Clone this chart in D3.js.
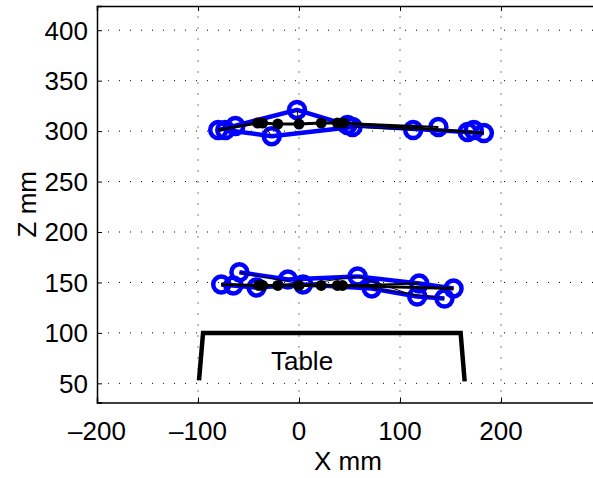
<!DOCTYPE html>
<html>
<head>
<meta charset="utf-8">
<script src="https://cdn.jsdelivr.net/npm/d3@7/dist/d3.min.js"></script>
<style>
  html, body { margin: 0; padding: 0; background: #fff; }
  svg { display: block; }
  text { font-family: "Liberation Sans", Arial, Helvetica, sans-serif; fill: #000; }
</style>
</head>
<body>
<svg id="chart" width="593" height="478"></svg>
<script>
// ---------- data ----------
const xTicks = [-200, -100, 0, 100, 200];
const yTicks = [50, 100, 150, 200, 250, 300, 350, 400];
const xTickLabels = ["\u2013200", "\u2013100", "0", "100", "200"];
const yTickLabels = ["50", "100", "150", "200", "250", "300", "350", "400"];

// upper hand (Z ~ 300 mm): marker positions [X, Z]
const upperMarkers = [
  [-80, 301], [-73, 301], [-63, 305], [-27, 295], [-2, 321], [48, 306],
  [53, 304], [113, 301], [138, 304], [167, 299], [173, 301], [183, 298]
];
// upper hand: virtual centre points [X, Z]
const upperDots = [[-41, 308], [-36, 308], [-21, 307], [0, 307], [22, 308], [38, 308], [44, 308]];

// lower hand (Z ~ 150 mm)
const lowerMarkers = [
  [-77, 148], [-65, 147], [-59, 160], [-42, 145], [-11, 153], [4, 148],
  [58, 156], [72, 144], [119, 149], [117, 136], [144, 134], [153, 144]
];
const lowerDots = [[-40, 147], [-36, 147], [-21, 147], [0, 147], [22, 147], [38, 147], [43, 147]];

// connections ("m" = marker index, "d" = centre point index)
const upperBlue  = [["m0","m4","m5"], ["m1","m3","m6"], ["m5","m11"]];
const upperBlack = [["m0","d0","d1","d2","d3","d4","d5","d6","m11"]];
const upperMid   = [["d6","m8"]];
const upperThin  = [["m3","d1"], ["m4","d3"], ["m6","m7"]];

const lowerBlue  = [["m0","m3","m5","m7","m9","m10"], ["m2","m4","m6","m8","m11"]];
const lowerBlack = [["m0","d0","d1","d2","d3","d4","d5","d6","m11"]];
const lowerMid   = [["d6","m8"]];
const lowerThin  = [["m2","m5"], ["m5","m6"], ["m7","m10"], ["m6","m9"]];

// table outline
const tableX = [-99, -95, 160, 164];
const tableZ = [53, 100, 100, 52];
const tableLabel = { text: "Table", x: 3, z: 63 };

// ---------- scales ----------
const FS = 26;
const svg = d3.select("#chart");
const x = d3.scaleLinear().domain([-200, 297]).range([97, 599]);
const y = d3.scaleLinear().domain([31, 424]).range([402.5, 6]);

// grid
const grid = svg.append("g").attr("stroke", "#000").attr("stroke-width", 1)
  .attr("stroke-dasharray", "1,10").attr("fill", "none");
grid.selectAll("line.gx").data(xTicks.filter(t => t > -200)).join("line")
  .attr("x1", d => x(d)).attr("x2", d => x(d)).attr("y1", y.range()[0]).attr("y2", y.range()[1]);
grid.selectAll("line.gy").data(yTicks).join("line")
  .attr("y1", d => y(d)).attr("y2", d => y(d)).attr("x1", x.range()[0]).attr("x2", x.range()[1]);

// axes box + ticks
const axes = svg.append("g");
const xAxisB = d3.axisBottom(x).tickValues(xTicks).tickSize(-5).tickFormat("");
const xAxisT = d3.axisTop(x).tickValues(xTicks).tickSize(-5).tickFormat("");
const yAxisL = d3.axisLeft(y).tickValues(yTicks).tickSize(-5).tickFormat("");
const yAxisR = d3.axisRight(y).tickValues(yTicks).tickSize(-5).tickFormat("");
axes.append("g").attr("transform", `translate(0,${y.range()[0]})`).call(xAxisB);
axes.append("g").attr("transform", `translate(0,${y.range()[1]})`).call(xAxisT);
axes.append("g").attr("transform", `translate(${x.range()[0]},0)`).call(yAxisL);
axes.append("g").attr("transform", `translate(${x.range()[1]},0)`).call(yAxisR);
axes.selectAll(".domain").attr("stroke", "#000").attr("stroke-width", 1.5);
axes.selectAll(".tick line").attr("stroke", "#000").attr("stroke-width", 1);

// tick labels
svg.append("g").selectAll("text").data(xTicks).join("text")
  .attr("x", d => x(d)).attr("y", 440).attr("text-anchor", "middle")
  .attr("font-size", FS).text((d, i) => xTickLabels[i]);
svg.append("g").selectAll("text").data(yTicks).join("text")
  .attr("x", 88).attr("y", d => y(d)).attr("dy", "0.36em").attr("text-anchor", "end")
  .attr("font-size", FS).text((d, i) => yTickLabels[i]);

// axis labels
svg.append("text").attr("x", (x.range()[0] + x.range()[1]) / 2).attr("y", 470)
  .attr("text-anchor", "middle").attr("font-size", FS).text("X mm");
svg.append("text").attr("transform", `translate(36,${(y.range()[0] + y.range()[1]) / 2}) rotate(-90)`)
  .attr("text-anchor", "middle").attr("font-size", FS).text("Z mm");

// plot area content
const plot = svg.append("g");

// table
const tablePts = tableX.map((v, i) => [v, tableZ[i]]);
plot.append("path").datum(tablePts)
  .attr("d", d3.line().x(d => x(d[0])).y(d => y(d[1])))
  .attr("fill", "none").attr("stroke", "#000").attr("stroke-width", 4.5)
  .attr("stroke-linejoin", "miter");
plot.append("text").attr("x", x(tableLabel.x)).attr("y", y(tableLabel.z))
  .attr("text-anchor", "middle").attr("font-size", FS).text(tableLabel.text);

function drawHand(markers, dots, blue, black, mid, thin) {
  const pt = k => (k[0] === "m" ? markers : dots)[+k.slice(1)];
  const line = d3.line().x(k => x(pt(k)[0])).y(k => y(pt(k)[1]));
  const g = plot.append("g");
  g.selectAll("path.blue").data(blue).join("path").attr("d", line)
    .attr("fill", "none").attr("stroke", "#0000ff").attr("stroke-width", 4.5)
    .attr("stroke-linejoin", "round");
  g.selectAll("circle.m").data(markers).join("circle")
    .attr("cx", d => x(d[0])).attr("cy", d => y(d[1])).attr("r", 8)
    .attr("fill", "none").attr("stroke", "#0000ff").attr("stroke-width", 4.5);
  g.selectAll("path.thin").data(thin).join("path").attr("d", line)
    .attr("fill", "none").attr("stroke", "#000").attr("stroke-width", 1);
  g.selectAll("path.mid").data(mid).join("path").attr("d", line)
    .attr("fill", "none").attr("stroke", "#000").attr("stroke-width", 2);
  g.selectAll("path.black").data(black).join("path").attr("d", line)
    .attr("fill", "none").attr("stroke", "#000").attr("stroke-width", 3);
  g.selectAll("circle.d").data(dots).join("circle")
    .attr("cx", d => x(d[0])).attr("cy", d => y(d[1])).attr("r", 5.5)
    .attr("fill", "#000");
}
drawHand(upperMarkers, upperDots, upperBlue, upperBlack, upperMid, upperThin);
drawHand(lowerMarkers, lowerDots, lowerBlue, lowerBlack, lowerMid, lowerThin);
</script>
</body>
</html>
